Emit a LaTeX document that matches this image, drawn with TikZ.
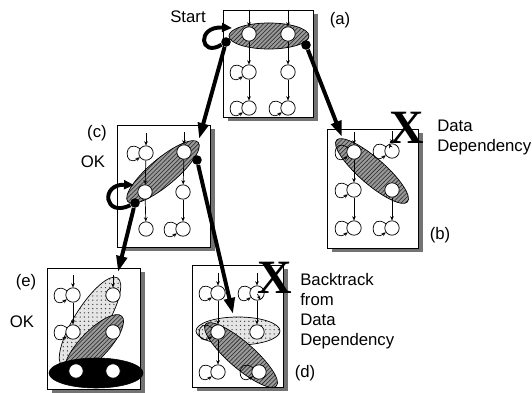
\documentclass[tikz,border=0pt]{standalone}
\usepackage{fontspec}
\setmainfont{Liberation Sans}
\newfontfamily\xfont{Liberation Serif}
\usetikzlibrary{arrows.meta,shapes.geometric,shadows,patterns}

\begin{document}
\begin{tikzpicture}[x=0.025cm, y=-0.025cm,
    panel/.style={draw, fill=white, line width=0.6pt, inner sep=0pt,
                  general shadow={fill=black!55, shadow xshift=0.12cm, shadow yshift=-0.1cm}},
    st/.style={circle, draw, fill=white, minimum size=0.36cm, inner sep=0pt, line width=0.5pt},
    tr/.style={-{Stealth[length=3pt,width=2.6pt]}, line width=0.5pt},
    sl/.style={tr, loop, out=145, in=215, min distance=0.2cm, looseness=6},
    hatch/.style={ellipse, draw, line width=0.5pt, inner sep=0pt,
                  preaction={fill=black!40}, pattern=north east lines, pattern color=black!85},
    stip/.style={ellipse, draw, line width=0.5pt, inner sep=0pt,
                 preaction={fill=black!10}, pattern=dots, pattern color=black!75},
    blk/.style={ellipse, draw, fill=black, inner sep=0pt},
    dot/.style={circle, fill=black, minimum size=0.24cm, inner sep=0pt},
    big/.style={-{Triangle[length=0.4cm,width=0.26cm]}, line width=2.8pt},
    lbl/.style={font=\fontsize{11.9}{14.2}\selectfont, align=left, inner sep=0pt},
    xmark/.style={font=\xfont\bfseries\fontsize{34}{34}\selectfont, inner sep=0pt}
  ]
  \useasboundingbox (0,0) rectangle (532,393);

  % Panels
  \node[panel, minimum width=2.25cm, minimum height=2.675cm] (pa) at (268,63.5) {};
  \node[panel, minimum width=2.275cm, minimum height=2.975cm] (pb) at (372.5,188.5) {};
  \node[panel, minimum width=2.325cm, minimum height=3.05cm] (pc) at (163.5,186) {};
  \node[panel, minimum width=2.275cm, minimum height=3.05cm] (pd) at (237.5,326) {};
  \node[panel, minimum width=2.325cm, minimum height=3.025cm] (pe) at (93.5,328.5) {};

  % Groups
  \node[hatch, minimum width=2.0cm, minimum height=0.65cm] (ea) at (269,36) {};
  \node[hatch, minimum width=2.35cm, minimum height=0.65cm, rotate=-41] (eb) at (372,171) {};
  \node[hatch, minimum width=2.3cm, minimum height=0.675cm, rotate=40] (ec) at (163,172) {};
  \node[stip, minimum width=2.1cm, minimum height=0.7cm] (ed1) at (238,331) {};
  \node[hatch, minimum width=2.35cm, minimum height=0.65cm, rotate=-41] (ed2) at (241,355) {};
  \node[stip, minimum width=2.6cm, minimum height=0.8cm, rotate=58] (ee1) at (90,322) {};
  \node[hatch, minimum width=2.0cm, minimum height=0.7cm, rotate=46] (ee2) at (94,345) {};
  \node[blk, minimum width=2.35cm, minimum height=0.75cm] (ee3) at (96,373) {};

  % (a)
  \node[st] (a1) at (249,34) {};  \node[st] (a2) at (288,34) {};
  \node[st] (a3) at (249,72) {};  \node[st] (a4) at (288,72) {};
  \node[st] (a5) at (249,108) {}; \node[st] (a6) at (288,108) {};
  \draw[tr] (a1 |- pa.north) -- (a1);
  \draw[tr] (a2 |- pa.north) -- (a2);
  \draw[tr] (a1) -- (a3);
  \draw[tr] (a3) -- (a5);
  \draw[tr] (a2) -- (a4);
  \draw[tr] (a4) -- (a6);
  \path (a3) edge[sl] (a3) (a5) edge[sl] (a5) (a6) edge[sl] (a6);

  % (b)
  \node[st] (b1) at (354,152) {}; \node[st] (b2) at (392,151) {};
  \node[st] (b3) at (354,190) {}; \node[st] (b4) at (392,190) {};
  \node[st] (b5) at (354,228) {}; \node[st] (b6) at (392,228) {};
  \draw[tr] ([yshift=0.3cm]b1.north) -- (b1);
  \draw[tr] ([yshift=0.3cm]b2.north) -- (b2);
  \draw[tr] (b1) -- (b3);
  \draw[tr] (b3) -- (b5);
  \draw[tr] (b4) -- (b6);
  \path (b1) edge[sl] (b1) (b2) edge[sl] (b2) (b3) edge[sl] (b3)
        (b5) edge[sl] (b5) (b6) edge[sl] (b6);

  % (c)
  \node[st] (c1) at (146,153) {}; \node[st] (c2) at (184,152) {};
  \node[st] (c3) at (145,192) {}; \node[st] (c4) at (183,192) {};
  \node[st] (c5) at (146,229) {}; \node[st] (c6) at (183,229) {};
  \draw[tr] ([yshift=0.3cm]c1.north) -- (c1);
  \draw[tr] ([yshift=0.3cm]c2.north) -- (c2);
  \draw[tr] (c1) -- (c3);
  \draw[tr] (c3) -- (c5);
  \draw[tr] (c2) -- (c4);
  \draw[tr] (c4) -- (c6);
  \path (c1) edge[sl] (c1) (c6) edge[sl] (c6);

  % (d)
  \node[st] (d1) at (218,293) {}; \node[st] (d2) at (257,293) {};
  \node[st] (d3) at (218,332) {}; \node[st] (d4) at (257,332) {};
  \node[st] (d5) at (218,372) {}; \node[st] (d6) at (259,372) {};
  \draw[tr] ([yshift=0.3cm]d1.north) -- (d1);
  \draw[tr] ([yshift=0.3cm]d2.north) -- (d2);
  \draw[tr] (d1) -- (d3);
  \draw[tr] (d3) -- (d5);
  \draw[tr] (d2) -- (d4);
  \path (d1) edge[sl] (d1) (d2) edge[sl] (d2) (d3) edge[sl] (d3)
        (d5) edge[sl] (d5) (d6) edge[sl] (d6);

  % (e)
  \node[st] (e1) at (73,295) {};  \node[st] (e2) at (113,295) {};
  \node[st] (e3) at (73,332) {};  \node[st] (e4) at (113,332) {};
  \node[st] (e5) at (76,371) {};  \node[st] (e6) at (113,371) {};
  \draw[tr] ([yshift=0.3cm]e1.north) -- (e1);
  \draw[tr] ([yshift=0.3cm]e2.north) -- (e2);
  \draw[tr] (e1) -- (e3);
  \path (e1) edge[sl] (e1) (e3) edge[sl] (e3);

  % X marks
  \node[xmark] (xb) at (407,128) {X};
  \node[xmark] (xd) at (275,278) {X};
  \draw[tr] (xb.south west) -- (b2);
  \draw[tr] (xd.south west) -- (d2);

  % Search steps
  \node[dot] (da1) at (226,42) {};
  \node[dot] (da2) at (306,45) {};
  \node[dot] (dc1) at (197,160) {};
  \node[dot] (dc2) at (135,203) {};
  \coordinate (la) at (232,28);
  \coordinate (lc) at (134,185);
  \coordinate (ta1) at (199,139);
  \coordinate (ta2) at (342,137);
  \coordinate (tc1) at (233,314);
  \coordinate (tc2) at (118,272);
  \draw[big, -{Triangle[length=0.25cm,width=0.22cm]}] (da1) .. controls (200,58) and (196,26) .. (la);
  \draw[big, -{Triangle[length=0.25cm,width=0.22cm]}] (dc2) .. controls (104,218) and (100,184) .. (lc);
  \draw[big] (da1) -- (ta1);
  \draw[big] (da2) -- (ta2);
  \draw[big] (dc1) -- (tc1);
  \draw[big] (dc2) -- (tc2);

  % Labels
  \node[lbl] (start) at (188,17) {Start};
  \node[lbl] (la-a) at (340,20) {(a)};
  \node[lbl] (la-b) at (440,235) {(b)};
  \node[lbl] (la-c) at (97,133) {(c)};
  \node[lbl] (ok-c) at (93,162) {OK};
  \node[lbl] (la-d) at (305,373) {(d)};
  \node[lbl] (la-e) at (26,282) {(e)};
  \node[lbl] (ok-e) at (22,322) {OK};
  \node[lbl, anchor=west] (dep-b) at (437,137) {Data\\Dependency};
  \node[lbl, anchor=west] (dep-d) at (300,311) {Backtrack\\from\\Data\\Dependency};
\end{tikzpicture}
\end{document}
